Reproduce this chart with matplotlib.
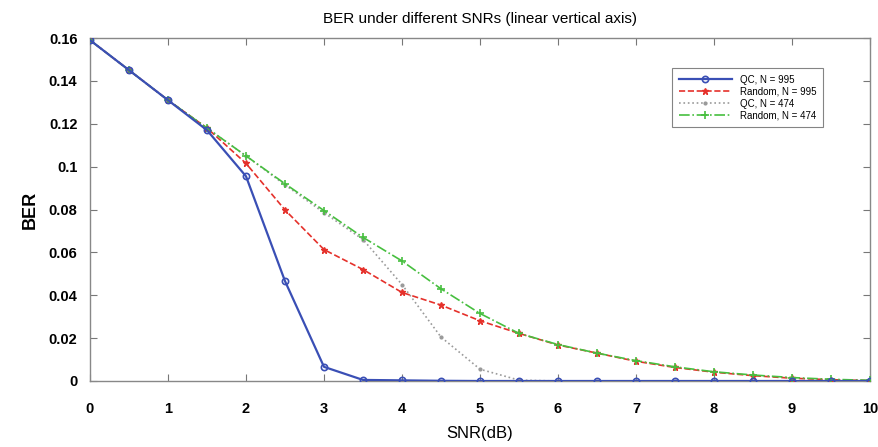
"""BER vs SNR comparison of QC and random codes (linear vertical axis)."""

import matplotlib
import numpy as np

matplotlib.use("Agg")
import matplotlib.pyplot as plt

snr_db = np.arange(0, 10.5, 0.5)

ber_qc_995 = [0.159, 0.145, 0.131, 0.117, 0.0955, 0.0466, 0.0066, 0.0005, 0.0003, 0.0001,
              0.0, 0.0, 0.0, 0.0, 0.0, 0.0, 0.0, 0.0, 0.0, 0.0, 0.0]
ber_rand_995 = [0.159, 0.145, 0.131, 0.118, 0.1015, 0.0798, 0.0613, 0.052, 0.0413, 0.0354,
                0.0281, 0.0222, 0.0168, 0.013, 0.0092, 0.0063, 0.0041, 0.0025, 0.0013, 0.0006, 0.0002]
ber_qc_474 = [0.159, 0.145, 0.131, 0.118, 0.105, 0.0915, 0.0785, 0.066, 0.045, 0.0205,
              0.0055, 0.0004, 0.0, 0.0, 0.0, 0.0, 0.0, 0.0, 0.0, 0.0, 0.0]
ber_rand_474 = [0.159, 0.145, 0.131, 0.118, 0.105, 0.092, 0.0795, 0.067, 0.056, 0.043,
                0.0315, 0.0222, 0.017, 0.013, 0.0095, 0.0066, 0.0043, 0.0028, 0.0016, 0.0008, 0.0003]

x_ticks = np.arange(0, 11, 1)
y_ticks = np.arange(0, 0.161, 0.02)
y_tick_labels = ["0", "0.02", "0.04", "0.06", "0.08", "0.1", "0.12", "0.14", "0.16"]

plt.rcParams["font.family"] = ["Liberation Sans", "DejaVu Sans"]

fig = plt.figure(figsize=(8.79, 4.47), dpi=100)
ax = fig.add_axes([90 / 879, 1 - 381 / 447, 780 / 879, 343 / 447])

ax.plot(snr_db, ber_qc_995, "-", color="#3a4fb5", lw=1.6, marker="o", ms=4.5,
        mfc="none", mec="#3a4fb5", mew=1.2, label="QC, N = 995", zorder=4)
ax.plot(snr_db, ber_rand_995, "--", color="#e5312b", lw=1.2, marker="*", ms=5,
        mec="#e5312b", label="Random, N = 995", zorder=3)
ax.plot(snr_db, ber_qc_474, ":", color="#9a9a9a", lw=1.2, marker=".", ms=4,
        label="QC, N = 474", zorder=2)
ax.plot(snr_db, ber_rand_474, "-.", color="#47bf3f", lw=1.2, marker="+", ms=6,
        mew=1.2, label="Random, N = 474", zorder=3)

ax.set_xlim(0, 10)
ax.set_ylim(0, 0.16)
ax.set_xticks(x_ticks)
ax.set_yticks(y_ticks)
ax.set_yticklabels(y_tick_labels)
ax.tick_params(direction="in", top=True, right=True, length=5, width=0.8,
               color="#777777", labelsize=10.5)
ax.tick_params(axis="x", pad=15)
ax.tick_params(axis="y", pad=9)
for lbl in ax.get_xticklabels() + ax.get_yticklabels():
    lbl.set_fontweight("bold")
for spine in ax.spines.values():
    spine.set_color("#888888")
    spine.set_linewidth(1.0)

ax.set_title("BER under different SNRs (linear vertical axis)", fontsize=11, pad=11)
ax.set_xlabel("SNR(dB)", fontsize=12, labelpad=7)
ax.set_ylabel("BER", fontsize=13, fontweight="bold", labelpad=7)

leg = ax.legend(loc="upper right", bbox_to_anchor=((828 - 90) / 780, 1 - (63 - 38) / 343),
                fontsize=7, frameon=True, fancybox=False, handlelength=5.5,
                borderpad=0.7, labelspacing=0.2, edgecolor="#666666")
leg.get_frame().set_linewidth(0.8)

fig.savefig("out.png", dpi=100)
